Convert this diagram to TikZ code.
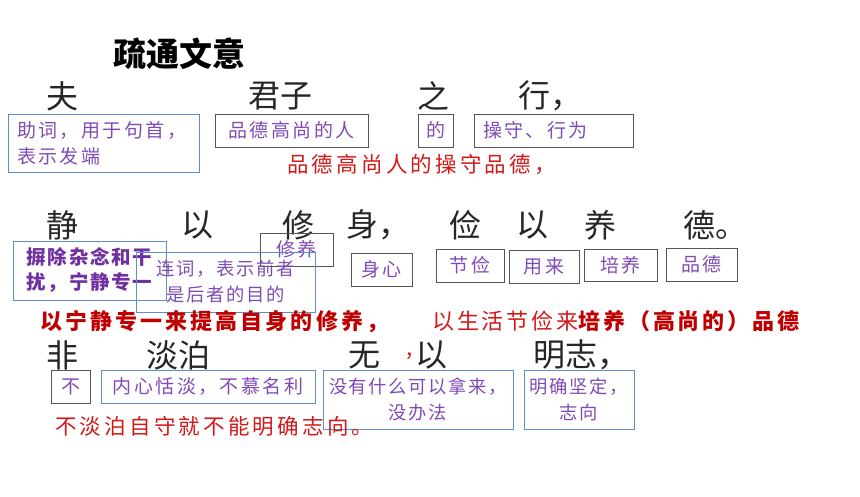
\documentclass[tikz,border=0pt]{standalone}
\usepackage{fontspec}
\setmainfont{Noto Sans CJK SC}
\newfontfamily\pfont[LetterSpace=13]{Noto Sans CJK SC}
\newfontfamily\psfont[LetterSpace=9]{Noto Sans CJK SC}
\newfontfamily\pbfont[LetterSpace=9]{Noto Sans CJK SC}
\newfontfamily\rfont[LetterSpace=15]{Noto Sans CJK SC}
\newfontfamily\rbfont[LetterSpace=14]{Noto Sans CJK SC}
\newfontfamily\rmfont[LetterSpace=13]{Noto Sans CJK SC}
\definecolor{ink}{HTML}{262626}
\definecolor{pur}{HTML}{7E4BB5}
\definecolor{purd}{HTML}{7030A0}
\definecolor{redl}{HTML}{D41818}
\definecolor{redd}{HTML}{C00000}
\definecolor{bluebd}{HTML}{5E8FC8}
\definecolor{graybd}{HTML}{555555}
\tikzset{
  big/.style={font=\fontsize{32}{36}\selectfont, text=ink, inner sep=0pt},
  ttl/.style={font=\bfseries\fontsize{33}{36}\selectfont, text=black, inner sep=0pt},
  gbox/.style={draw=graybd, line width=1pt, inner sep=0pt, text=pur, align=center,
    font=\pfont\fontsize{19}{26}\selectfont},
  bbox/.style={gbox, draw=bluebd},
  smalltxt/.style={font=\psfont\fontsize{18.3}{26}\selectfont},
  rline/.style={inner sep=0pt, anchor=west, text=redl, font=\rfont\fontsize{21.5}{24}\selectfont},
  rbline/.style={inner sep=0pt, anchor=west, text=redd, font=\rbfont\bfseries\fontsize{22}{24}\selectfont}
}
\begin{document}
\begin{tikzpicture}[x=1pt,y=-1pt]
\useasboundingbox (0,0) rectangle (860,496);
% title
\node[ttl, anchor=west] (title) at (113,54) {疏通文意};
% row 1
\node[big] (fu) at (62,96) {夫};
\node[big, anchor=west] (junzi) at (248,96) {君子};
\node[big] (zhi) at (433,96) {之};
\node[big, anchor=west] (xing) at (518,96) {行，};
\node[bbox, minimum width=191, minimum height=58, text width=173, align=left] (b1) at (103.5,143) {助词，用于句首，\\表示发端};
\node[gbox, minimum width=153, minimum height=33] (b2) at (291.5,130.5) {品德高尚的人};
\node[gbox, minimum width=35, minimum height=33] (b3) at (435.5,130.5) {的};
\node[gbox, minimum width=159, minimum height=33, text width=141, align=left] (b4) at (553.5,130.5) {操守、行为};
\node[rline] (r1) at (287,165) {品德高尚人的操守品德，};
% row 2
\node[big] (jing) at (62,225) {静};
\node[big] (yi1) at (197.5,225) {以};
\node[big] (xiu) at (298,225) {修};
\node[big, anchor=west] (shen) at (346,225) {身，};
\node[big] (jian) at (465,225) {俭};
\node[big] (yi2) at (532,225) {以};
\node[big] (yang) at (600,225) {养};
\node[big, anchor=west] (de) at (683,225) {德。};
\node[gbox, minimum width=73, minimum height=33] (b5) at (296.5,249.5) {修养};
\node[bbox, minimum width=153, minimum height=59, text=purd, font=\pbfont\bfseries\fontsize{19.5}{25}\selectfont] (b6) at (89.5,270.5) {摒除杂念和干\\扰，宁静专一};
\node[bbox, smalltxt, minimum width=179, minimum height=60] (b7) at (225.5,282) {连词，表示前者\\是后者的目的};
\node[gbox, minimum width=61, minimum height=33] (b8) at (381.5,269.5) {身心};
\node[gbox, minimum width=68, minimum height=33] (b9) at (470,265.5) {节俭};
\node[gbox, minimum width=70, minimum height=33] (b10) at (544,266.5) {用来};
\node[gbox, minimum width=73, minimum height=32] (b11) at (620.5,265) {培养};
\node[gbox, minimum width=71, minimum height=33] (b12) at (701.5,264.5) {品德};
\node[rbline] (r2a) at (40,322) {以宁静专一来提高自身的修养，};
\node[rline, font=\rmfont\fontsize{22}{24}\selectfont] (r2b) at (432,321) {以生活节俭来{\color{redd}\bfseries 培养（高尚的）品德}};
% row 3
\node[big] (fei) at (62.5,355) {非};
\node[big, anchor=west] (danbo) at (146,355) {淡泊};
\node[big] (wu) at (364,355) {无};
\node[inner sep=0pt, text=redl, font=\fontsize{22}{24}\selectfont] (comma) at (410,356) {,};
\node[big] (yi3) at (431.5,355) {以};
\node[big, anchor=west] (mingzhi) at (533,355) {明志，};
\node[gbox, minimum width=39, minimum height=33] (b13) at (70.5,386.5) {不};
\node[bbox, minimum width=214, minimum height=33] (b14) at (208,386.5) {内心恬淡，不慕名利};
\node[bbox, smalltxt, minimum width=190, minimum height=59] (b15) at (418,399.5) {没有什么可以拿来，\\没办法};
\node[bbox, smalltxt, minimum width=110, minimum height=59] (b16) at (579,399.5) {明确坚定，\\志向};
\node[rline] (r3) at (55,426) {不淡泊自守就不能明确志向。};
\end{tikzpicture}
\end{document}
